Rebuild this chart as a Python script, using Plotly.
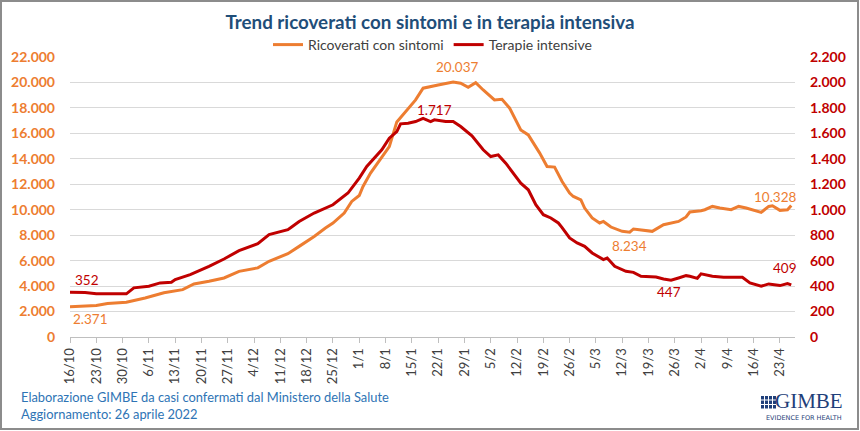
import plotly.graph_objects as go

# ---------------- data ----------------
ric_dates = ["2021-10-16","2021-10-23","2021-10-26","2021-10-31","2021-11-05","2021-11-10","2021-11-15",
             "2021-11-18","2021-11-22","2021-11-26","2021-11-30","2021-12-05","2021-12-08","2021-12-13",
             "2021-12-16","2021-12-20","2021-12-23","2021-12-25","2021-12-28","2021-12-30","2022-01-01",
             "2022-01-02","2022-01-04","2022-01-07","2022-01-09","2022-01-11","2022-01-13","2022-01-16",
             "2022-01-18","2022-01-20","2022-01-22","2022-01-26","2022-01-28","2022-01-30","2022-02-01",
             "2022-02-03","2022-02-06","2022-02-08","2022-02-10","2022-02-13","2022-02-15","2022-02-18",
             "2022-02-20","2022-02-22","2022-02-24","2022-02-26","2022-02-27","2022-03-01","2022-03-02",
             "2022-03-04","2022-03-06","2022-03-07","2022-03-09","2022-03-12","2022-03-14","2022-03-15",
             "2022-03-18","2022-03-20","2022-03-23","2022-03-25","2022-03-27","2022-03-29","2022-03-30",
             "2022-04-02","2022-04-03","2022-04-05","2022-04-07","2022-04-10","2022-04-12","2022-04-14",
             "2022-04-18","2022-04-20","2022-04-21","2022-04-23","2022-04-25","2022-04-26"]
ric_values = [2371,2470,2630,2730,3070,3480,3720,
              4170,4380,4640,5160,5430,5950,6550,
              7120,7900,8560,8950,9740,10650,11120,
              11830,12880,14180,14960,16900,17580,18630,
              19550,19650,19800,20037,19940,19620,19980,
              19410,18630,18680,18000,16270,15880,14470,
              13400,13350,12220,11310,11040,10780,10130,
              9350,8960,9080,8640,8300,8234,8490,
              8380,8300,8820,8960,9080,9430,9820,
              9920,10000,10260,10130,10000,10260,10130,
              9790,10260,10310,9950,10000,10328]

ti_dates = ["2021-10-16","2021-10-20","2021-10-23","2021-10-27","2021-10-31","2021-11-02","2021-11-06",
            "2021-11-09","2021-11-12","2021-11-13","2021-11-17","2021-11-22","2021-11-26","2021-11-30",
            "2021-12-05","2021-12-08","2021-12-13","2021-12-14","2021-12-16","2021-12-20","2021-12-23",
            "2021-12-25","2021-12-29","2022-01-01","2022-01-03","2022-01-07","2022-01-09","2022-01-11",
            "2022-01-12","2022-01-14","2022-01-16","2022-01-18","2022-01-20","2022-01-21","2022-01-24",
            "2022-01-26","2022-01-28","2022-01-30","2022-01-31","2022-02-03","2022-02-05","2022-02-07",
            "2022-02-09","2022-02-13","2022-02-15","2022-02-17","2022-02-19","2022-02-21","2022-02-23",
            "2022-02-24","2022-02-26","2022-02-28","2022-03-02","2022-03-04","2022-03-07","2022-03-08",
            "2022-03-10","2022-03-13","2022-03-15","2022-03-17","2022-03-21","2022-03-23","2022-03-25",
            "2022-03-27","2022-03-29","2022-03-30","2022-04-01","2022-04-02","2022-04-05","2022-04-08",
            "2022-04-10","2022-04-13","2022-04-15","2022-04-18","2022-04-20","2022-04-23","2022-04-25",
            "2022-04-26"]
ti_values = [352,350,339,341,339,386,399,
             425,430,451,490,555,613,678,
             733,804,843,864,908,974,1013,
             1039,1131,1249,1340,1471,1562,1614,
             1675,1680,1693,1717,1693,1706,1693,
             1693,1654,1600,1580,1471,1418,1431,
             1366,1209,1157,1039,961,935,896,
             860,778,739,712,660,608,621,
             555,516,508,477,472,456,447,
             464,482,477,461,496,477,469,
             469,469,425,399,417,404,420,
             409]

tick_dates = ["2021-10-16","2021-10-23","2021-10-30","2021-11-06","2021-11-13","2021-11-20","2021-11-27",
              "2021-12-04","2021-12-11","2021-12-18","2021-12-25","2022-01-01","2022-01-08","2022-01-15",
              "2022-01-22","2022-01-29","2022-02-05","2022-02-12","2022-02-19","2022-02-26","2022-03-05",
              "2022-03-12","2022-03-19","2022-03-26","2022-04-02","2022-04-09","2022-04-16","2022-04-23"]
tick_labels = ["16/10","23/10","30/10","6/11","13/11","20/11","27/11","4/12","11/12","18/12","25/12",
               "1/1","8/1","15/1","22/1","29/1","5/2","12/2","19/2","26/2","5/3","12/3","19/3","26/3",
               "2/4","9/4","16/4","23/4"]

# labelled points: (date, value, xshift, yshift)
labels_ric = [("2022-01-26", 20037, 4, 15), ("2021-10-16", 2371, 20, -12),
              ("2022-03-14", 8234, 0, -14), ("2022-04-26", 10328, -16, 9)]
labels_ti = [("2022-01-18", 1717, 11, 8), ("2021-10-16", 352, 17, 12),
             ("2022-03-25", 447, -2, -12), ("2022-04-26", 409, -6, 17)]

ORANGE = "#ED7D31"
RED = "#C00000"
FONT = "Lato, Carlito, Calibri, sans-serif"

# layout geometry (pixels)
WIDTH, HEIGHT = 860, 431
ML, MR, MT, MB = 70, 65, 57, 94
PW = WIDTH - ML - MR
PH = HEIGHT - MT - MB


def px(x):
    return (x - ML) / PW


def py(y):
    return (MT + PH - y) / PH


fig = go.Figure()
fig.add_trace(go.Scatter(x=ric_dates, y=ric_values, mode="lines", name="Ricoverati con sintomi",
                         line=dict(color=ORANGE, width=3), yaxis="y"))
fig.add_trace(go.Scatter(x=ti_dates, y=ti_values, mode="lines", name="Terapie intensive",
                         line=dict(color=RED, width=3), yaxis="y2"))

annotations = []
for d, v, xs, ys in labels_ric:
    annotations.append(dict(x=d, y=v, xref="x", yref="y", text=f"{v:,}".replace(",", "."),
                            showarrow=False, xshift=xs, yshift=ys,
                            font=dict(family=FONT, size=13.5, color=ORANGE)))
for d, v, xs, ys in labels_ti:
    annotations.append(dict(x=d, y=v, xref="x", yref="y2", text=f"{v:,}".replace(",", "."),
                            showarrow=False, xshift=xs, yshift=ys,
                            font=dict(family=FONT, size=13.5, color=RED)))

# footer
annotations.append(dict(x=px(19), y=py(397), xref="paper", yref="paper", xanchor="left", yanchor="middle",
                        text="Elaborazione GIMBE da casi confermati dal Ministero della Salute",
                        showarrow=False, font=dict(family=FONT, size=12.9, color="#2E74B5")))
annotations.append(dict(x=px(19), y=py(414), xref="paper", yref="paper", xanchor="left", yanchor="middle",
                        text="Aggiornamento: 26 aprile 2022",
                        showarrow=False, font=dict(family=FONT, size=12.9, color="#2E74B5")))
# logo
annotations.append(dict(x=px(844), y=py(400.5), xref="paper", yref="paper", xanchor="right", yanchor="middle",
                        text="GIMBE", showarrow=False, borderpad=0,
                        font=dict(family="Liberation Serif, DejaVu Serif, serif", size=21, color="#1F3F7A")))
annotations.append(dict(x=px(843), y=py(418), xref="paper", yref="paper", xanchor="right", yanchor="middle",
                        text="EVIDENCE FOR HEALTH", showarrow=False, borderpad=0,
                        font=dict(family="DejaVu Sans, sans-serif", size=6.5, color="#1F3F7A")))

shapes = []
# frame around the picture
shapes.append(dict(type="rect", xref="paper", yref="paper", x0=px(1), x1=px(858), y0=py(1), y1=py(429),
                   line=dict(color="#8C8C8C", width=2), fillcolor="rgba(0,0,0,0)", layer="above"))
# logo icon (small grid of squares)
for r in range(3):
    for c in range(4):
        x0 = 761 + c * 4
        y0 = 396 + r * 4.5
        shapes.append(dict(type="rect", xref="paper", yref="paper", x0=px(x0), x1=px(x0 + 3),
                           y0=py(y0), y1=py(y0 + 3.5), line=dict(width=0), fillcolor="#1F3F7A"))

fig.update_layout(
    width=WIDTH, height=HEIGHT,
    margin=dict(l=ML, r=MR, t=MT, b=MB, pad=0),
    paper_bgcolor="white", plot_bgcolor="white",
    separators=",.",
    font=dict(family=FONT, color="#404040"),
    title=dict(text="<b>Trend ricoverati con sintomi e in terapia intensiva</b>",
               x=0.5, xanchor="center", y=1 - 22 / HEIGHT, yanchor="middle",
               font=dict(family=FONT, size=18.8, color="#1F4E79")),
    legend=dict(orientation="h", x=0.5, xanchor="center", y=py(45), yanchor="middle",
                font=dict(family=FONT, size=14, color="#404040"), bgcolor="rgba(0,0,0,0)",
                itemwidth=30),
    xaxis=dict(type="date", range=["2021-10-16", "2022-04-27"], automargin=False,
               tickmode="array", tickvals=tick_dates, ticktext=tick_labels, tickangle=-90,
               ticks="outside", ticklen=5, tickcolor="#BFBFBF",
               showline=True, linecolor="#BFBFBF", linewidth=1, showgrid=False,
               tickfont=dict(family=FONT, size=13, color="#404040")),
    yaxis=dict(range=[0, 22000], dtick=2000, tickformat=",d", showgrid=True, gridcolor="#D9D9D9",
               zeroline=False, ticks="", ticklabelstandoff=14, automargin=False,
               tickfont=dict(family=FONT, size=14, color=ORANGE, weight="bold")),
    yaxis2=dict(range=[0, 2200], dtick=200, tickformat=",d", overlaying="y", side="right",
                showgrid=False, zeroline=False, ticks="", ticklabelstandoff=14, automargin=False,
                tickfont=dict(family=FONT, size=14, color=RED, weight="bold")),
    annotations=annotations,
    shapes=shapes,
)

fig.write_html("out.html", config={"displayModeBar": False},
               post_script="document.body.style.margin='0';document.body.style.overflow='hidden';")
